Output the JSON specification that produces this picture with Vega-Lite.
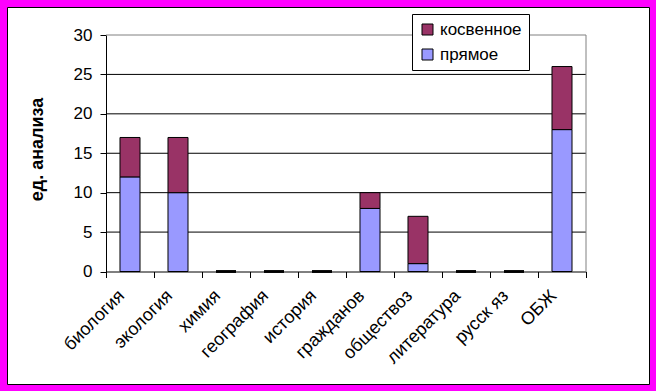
{
  "$schema": "https://vega.github.io/schema/vega-lite/v6.json",
  "width": 642,
  "height": 377,
  "padding": 7,
  "autosize": {"type": "none"},
  "background": "#FF00FF",
  "config": {
    "font": "Liberation Sans",
    "view": {"fill": "white", "stroke": "black", "strokeWidth": 1},
    "axis": {"labelColor": "black", "tickColor": "black", "domainColor": "black", "titleColor": "black", "labelFont": "Liberation Sans", "titleFont": "Liberation Sans"}
  },
  "datasets": {
    "bars": [
      {"subject": "биология", "type": "прямое", "value": 12},
      {"subject": "биология", "type": "косвенное", "value": 5},
      {"subject": "экология", "type": "прямое", "value": 10},
      {"subject": "экология", "type": "косвенное", "value": 7},
      {"subject": "химия", "type": "прямое", "value": 0},
      {"subject": "химия", "type": "косвенное", "value": 0},
      {"subject": "география", "type": "прямое", "value": 0},
      {"subject": "география", "type": "косвенное", "value": 0},
      {"subject": "история", "type": "прямое", "value": 0},
      {"subject": "история", "type": "косвенное", "value": 0},
      {"subject": "гражданов", "type": "прямое", "value": 8},
      {"subject": "гражданов", "type": "косвенное", "value": 2},
      {"subject": "обществоз", "type": "прямое", "value": 1},
      {"subject": "обществоз", "type": "косвенное", "value": 6},
      {"subject": "литература", "type": "прямое", "value": 0},
      {"subject": "литература", "type": "косвенное", "value": 0},
      {"subject": "русск яз", "type": "прямое", "value": 0},
      {"subject": "русск яз", "type": "косвенное", "value": 0},
      {"subject": "ОБЖ", "type": "прямое", "value": 18},
      {"subject": "ОБЖ", "type": "косвенное", "value": 8}
    ],
    "grid": [{"g": 5}, {"g": 10}, {"g": 15}, {"g": 20}, {"g": 25}]
  },
  "layer": [
    {
      "data": {"name": "grid"},
      "mark": {"type": "rule", "color": "black", "strokeWidth": 1},
      "encoding": {
        "y": {"field": "g", "type": "quantitative", "title": "ед. анализа"},
        "x": {"datum": "биология", "bandPosition": 0},
        "x2": {"datum": "ОБЖ", "bandPosition": 1}
      }
    },
    {
      "data": {"values": [{}]},
      "mark": {"type": "rule", "color": "#808080", "strokeWidth": 1},
      "encoding": {
        "y": {"datum": 30},
        "x": {"datum": "биология", "bandPosition": 0},
        "x2": {"datum": "ОБЖ", "bandPosition": 1}
      }
    },
    {
      "data": {"values": [{}]},
      "mark": {"type": "rule", "color": "#808080", "strokeWidth": 1},
      "encoding": {
        "x": {"datum": "ОБЖ", "bandPosition": 1},
        "y": {"datum": 0},
        "y2": {"datum": 30}
      }
    },
    {
      "data": {"name": "bars"},
      "mark": {"type": "bar", "stroke": "black", "width": {"band": 0.4167}},
      "encoding": {
        "x": {
          "field": "subject",
          "type": "nominal",
          "scale": {
            "domain": ["биология", "экология", "химия", "география", "история", "гражданов", "обществоз", "литература", "русск яз", "ОБЖ"],
            "range": [99, 579],
            "paddingInner": 0,
            "paddingOuter": 0
          },
          "axis": {
            "orient": "bottom",
            "offset": -112.5,
            "title": null,
            "tickBand": "extent",
            "tickSize": 6,
            "domain": true,
            "grid": false,
            "labelAngle": -45,
            "labelAlign": "right",
            "labelBaseline": "top",
            "labelFontSize": 18,
            "labelPadding": 9,
            "labelOffset": -15
          }
        },
        "y": {
          "field": "value",
          "type": "quantitative",
          "stack": "zero",
          "title": "ед. анализа",
          "scale": {"domain": [0, 30], "range": [264.5, 28], "nice": false, "zero": false},
          "axis": {
            "orient": "left",
            "offset": -99,
            "values": [0, 5, 10, 15, 20, 25, 30],
            "grid": false,
            "domain": true,
            "tickSize": 6,
            "labelFontSize": 17,
            "labelPadding": 8,
            "titleFontSize": 18,
            "titleFontWeight": "bold",
            "titlePadding": 27,
            "titleY": 142
          }
        },
        "strokeWidth": {"condition": {"test": "datum.value == 0", "value": 2.5}, "value": 1},
        "color": {
          "field": "type",
          "type": "nominal",
          "scale": {"domain": ["косвенное", "прямое"], "range": ["#993366", "#9999FF"]},
          "legend": {
            "orient": "none",
            "legendX": 405,
            "legendY": 7,
            "title": null,
            "fillColor": "white",
            "strokeColor": "black",
            "padding": 7,
            "rowPadding": 7,
            "symbolType": "square",
            "symbolSize": 121,
            "symbolStrokeColor": "black",
            "symbolStrokeWidth": 1,
            "labelFontSize": 17,
            "labelColor": "black",
            "labelOffset": 4
          }
        },
        "order": {"field": "type", "sort": "descending"}
      }
    }
  ]
}
